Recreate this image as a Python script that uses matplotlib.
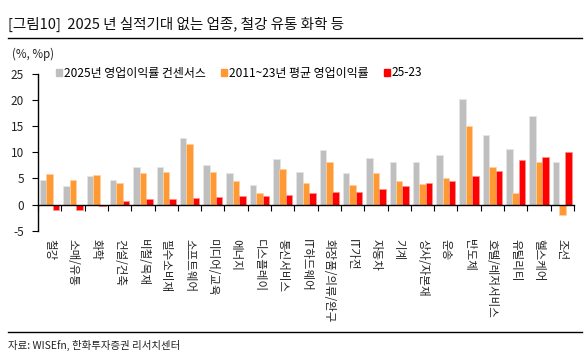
import matplotlib
matplotlib.use("Agg")
import matplotlib.pyplot as plt
import numpy as np
from matplotlib.lines import Line2D

plt.rcParams['font.family'] = ['Noto Sans CJK KR', 'DejaVu Sans']

categories = ['철강', '소매/유통', '화학', '건설/건축', '비철/목재', '필수소비재', '소프트웨어',
              '미디어/교육', '에너지', '디스플레이', '통신서비스', 'IT하드웨어', '화장품/의류/완구',
              'IT가전', '자동차', '기계', '상사/자본재', '운송', '반도체', '호텔/레저서비스',
              '유틸리티', '헬스케어', '조선']
consensus_2025 = [4.7, 3.6, 5.5, 4.8, 7.1, 7.2, 12.8, 7.5, 6.0, 3.8, 8.8, 6.3, 10.4,
                  6.1, 9.0, 8.1, 8.1, 9.4, 20.2, 13.4, 10.7, 17.0, 8.1]
avg_2011_23 = [5.8, 4.7, 5.7, 4.2, 6.1, 6.2, 11.6, 6.2, 4.5, 2.2, 6.9, 4.2, 8.1,
               3.7, 6.0, 4.5, 4.0, 5.0, 15.0, 7.1, 2.3, 8.1, -2.0]
diff_25_23 = [-1.1, -1.1, -0.3, 0.6, 1.0, 1.1, 1.3, 1.4, 1.6, 1.7, 1.9, 2.2, 2.4,
              2.5, 3.0, 3.6, 4.1, 4.6, 5.4, 6.4, 8.5, 9.1, 10.0]
yticks = [-5, 0, 5, 10, 15, 20, 25]
legend_labels = ['2025년 영업이익률 컨센서스', '2011~23년 평균 영업이익률', '25-23']

W, H = 588, 364
fig = plt.figure(figsize=(W / 100, H / 100), dpi=100)
ax = fig.add_axes([38 / W, 1 - 230.7 / H, (574 - 38) / W, (230.7 - 74) / H])

x = np.arange(len(categories))
bw = 0.28
off = 0.275
c_gray, c_orange, c_red = '#BFBFBF', '#FF9933', '#FF0000'
ax.bar(x - off, consensus_2025, bw, color=c_gray, edgecolor='#E6E6E6', linewidth=0.5, zorder=2)
ax.bar(x, avg_2011_23, bw, color=c_orange, edgecolor='#FFD0A0', linewidth=0.5, zorder=3)
ax.bar(x + off, diff_25_23, bw, color=c_red, edgecolor='#FF9090', linewidth=0.5, zorder=4)

ax.set_xlim(-0.5, len(categories) - 0.5)
ax.set_ylim(-5, 25)
ax.set_yticks(yticks)
ax.set_yticklabels([str(v) for v in yticks], fontsize=8.5, color='#222222')
ax.tick_params(axis='y', direction='out', length=4, width=0.8, pad=6)

ax.spines['top'].set_visible(False)
ax.spines['right'].set_visible(False)
ax.spines['bottom'].set_position(('data', 0))
ax.spines['bottom'].set_linewidth(1.0)
ax.spines['left'].set_linewidth(1.0)
ax.spines['bottom'].set_zorder(5)

ax.set_xticks(x)
ax.set_xticklabels(categories, rotation=270, fontsize=8.3, va='top', ha='center', color='#222222')
ax.tick_params(axis='x', which='major', length=0, pad=25)
ax.set_xticks(np.arange(-0.5, len(categories), 1.0), minor=True)
ax.tick_params(axis='x', which='minor', direction='out', length=4, width=0.8)

handles = [plt.Rectangle((0, 0), 1, 1, color=c) for c in (c_gray, c_orange, c_red)]
fig.legend(handles, legend_labels, loc='center left', ncol=3,
           bbox_to_anchor=(56 / W, 1 - 73 / H), frameon=False, fontsize=8.6,
           handlelength=0.5, handleheight=0.5, handletextpad=0.15,
           columnspacing=1.3, borderaxespad=0, borderpad=0)

fig.text(8 / W, 1 - 24 / H, '[그림10]  2025 년 실적기대 없는 업종, 철강 유통 화학 등',
         fontsize=10.5, va='center', ha='left', color='#111111')
fig.add_artist(Line2D([8 / W, 582 / W], [1 - 38 / H, 1 - 38 / H], color='black', linewidth=1.0))
fig.text(12 / W, 1 - 54 / H, '(%, %p)', fontsize=8.3, va='center', ha='left', color='#222222')
fig.add_artist(Line2D([8 / W, 582 / W], [1 - 332 / H, 1 - 332 / H], color='black', linewidth=1.0))
fig.text(8 / W, 1 - 345 / H, '자료: WISEfn, 한화투자증권 리서치센터', fontsize=7.5, va='center',
         ha='left', color='#222222')

fig.savefig('out.png', dpi=100)
